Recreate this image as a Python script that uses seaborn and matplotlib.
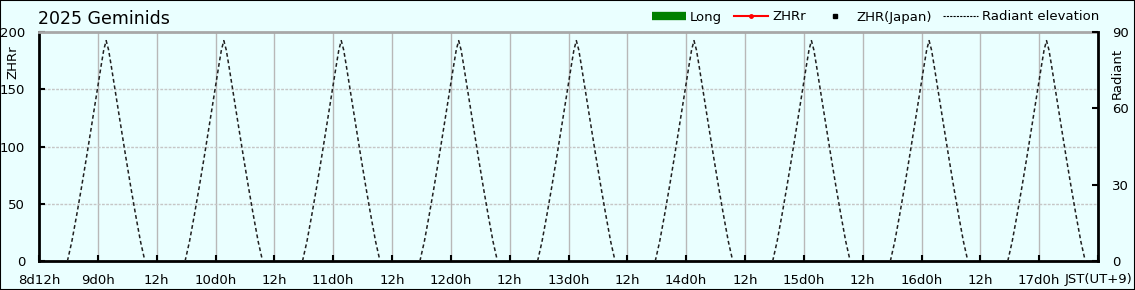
import numpy as np
import pandas as pd
import matplotlib
matplotlib.use("Agg")
import matplotlib.pyplot as plt
from matplotlib.lines import Line2D
from matplotlib.patches import Rectangle
import seaborn as sns

# ---------------- data ----------------
title = "2025 Geminids"
# x axis: hours since 8d12h JST
xtick_hours = list(range(0, 217, 12))
xtick_labels = ["8d12h", "9d0h", "12h", "10d0h", "12h", "11d0h", "12h", "12d0h", "12h",
                "13d0h", "12h", "14d0h", "12h", "15d0h", "12h", "16d0h", "12h", "17d0h",
                "JST(UT+9)"]
# meteor series (no observations plotted)
zhr_r = []          # ZHRr
zhr_japan = []      # ZHR(Japan)
long_vals = []      # Long
# radiant transit times (hours since 8d12h) read from the peaks
transit_hours = [13.7, 37.7, 61.65, 85.6, 109.6, 133.6, 157.55, 181.55, 205.5]
# radiant elevation profile around each transit (offset hours, degrees)
profile_offset = [-7.9, -7.0, -6.0, -5.0, -4.0, -3.0, -2.0, -1.0, -0.5, 0.0,
                  0.5, 1.0, 2.0, 3.0, 4.0, 5.0, 6.0, 7.0, 7.9]
profile_elev = [0.0, 7.7, 18.2, 29.3, 40.9, 52.9, 65.0, 77.1, 82.9, 86.6,
                82.9, 77.1, 65.0, 52.9, 40.9, 29.3, 18.2, 7.7, 0.0]

rows = []
for d, tr in enumerate(transit_hours):
    for off, el in zip(profile_offset, profile_elev):
        rows.append({"day": d, "t": tr + off, "elev": el})
elev_df = pd.DataFrame(rows)

# ---------------- style ----------------
bg = "#eaffff"
plt.rcParams["font.family"] = ["DejaVu Sans"]
plt.rcParams["font.size"] = 9.5

W, H = 1135, 290
fig = plt.figure(figsize=(W / 100, H / 100), dpi=100, facecolor=bg)
x0, x1, ytop, ybot = 39, 1098, 32, 261
ax = fig.add_axes([x0 / W, (H - ybot) / H, (x1 - x0) / W, (ybot - ytop) / H])
ax.set_facecolor(bg)

ax.set_xlim(0, 216)
ax.set_ylim(0, 200)
ax.set_xticks(xtick_hours)
ax.set_xticklabels(xtick_labels)
ax.set_yticks([0, 50, 100, 150, 200])
ax.tick_params(axis="both", direction="in", length=4, width=1.5, color="black")
ax.tick_params(axis="y", pad=10)
ax.tick_params(axis="x", pad=9)
ax.xaxis.grid(True, color="#b8b8b8", lw=1, ls="-")
ax.yaxis.grid(True, color="#c6c6c6", lw=1, ls=(0, (2, 1)))
ax.set_axisbelow(True)
for s in ["left", "bottom"]:
    ax.spines[s].set_linewidth(2)
    ax.spines[s].set_color("black")
ax.spines["top"].set_color("#a8a8a8")
ax.spines["top"].set_linewidth(2)
ax.spines["right"].set_visible(False)

# empty meteor series (keep legend)
sns.lineplot(x=np.array(zhr_r, dtype=float), y=np.array(zhr_r, dtype=float), ax=ax)

ax2 = ax.twinx()
ax2.set_ylim(0, 90)
ax2.set_yticks([0, 30, 60, 90])
ax2.tick_params(axis="y", direction="in", length=4, width=1.5, pad=10)
ax2.spines["right"].set_linewidth(2)
ax2.spines["right"].set_color("black")
for s in ["left", "bottom", "top"]:
    ax2.spines[s].set_visible(False)

sns.lineplot(data=elev_df, x="t", y="elev", units="day", estimator=None,
             color="#202020", lw=1.1, linestyle=(0, (2.5, 1.8)), ax=ax2, legend=False)
ax2.set_xlim(0, 216)
ax2.set_xlabel("")
ax2.set_ylabel("")
ax.set_xlabel("")
ax.set_ylabel("")

fig.text(13 / W, 1 - 62 / H, "ZHRr", rotation=90, ha="center", va="center", fontsize=9.5)
fig.text(1117 / W, 1 - 73 / H, "Radiant", rotation=90, ha="center", va="center", fontsize=9.5)
fig.text(38 / W, 1 - 19 / H, title, ha="left", va="center", fontsize=12.5)

handles = [
    Line2D([], [], color="#008000", lw=6, solid_capstyle="butt"),
    Line2D([], [], color="red", lw=1.5, marker="o", markersize=2.5),
    Line2D([], [], color="black", lw=0, marker="s", markersize=3.5),
    Line2D([], [], color="black", lw=0.8, ls=(0, (2, 1))),
]
labels = ["Long", "ZHRr", "ZHR(Japan)", "Radiant elevation"]
fig.legend(handles, labels, loc="center right", bbox_to_anchor=(1108 / W, 1 - 17 / H),
           ncol=4, frameon=False, handlelength=2.6, handletextpad=0.3,
           columnspacing=0.9, borderpad=0.2, fontsize=9.5)

fig.add_artist(Rectangle((0, 0), 1, 1, transform=fig.transFigure, fill=False,
                         edgecolor="black", lw=1.5))

fig.savefig("out.png", dpi=100, facecolor=bg)
